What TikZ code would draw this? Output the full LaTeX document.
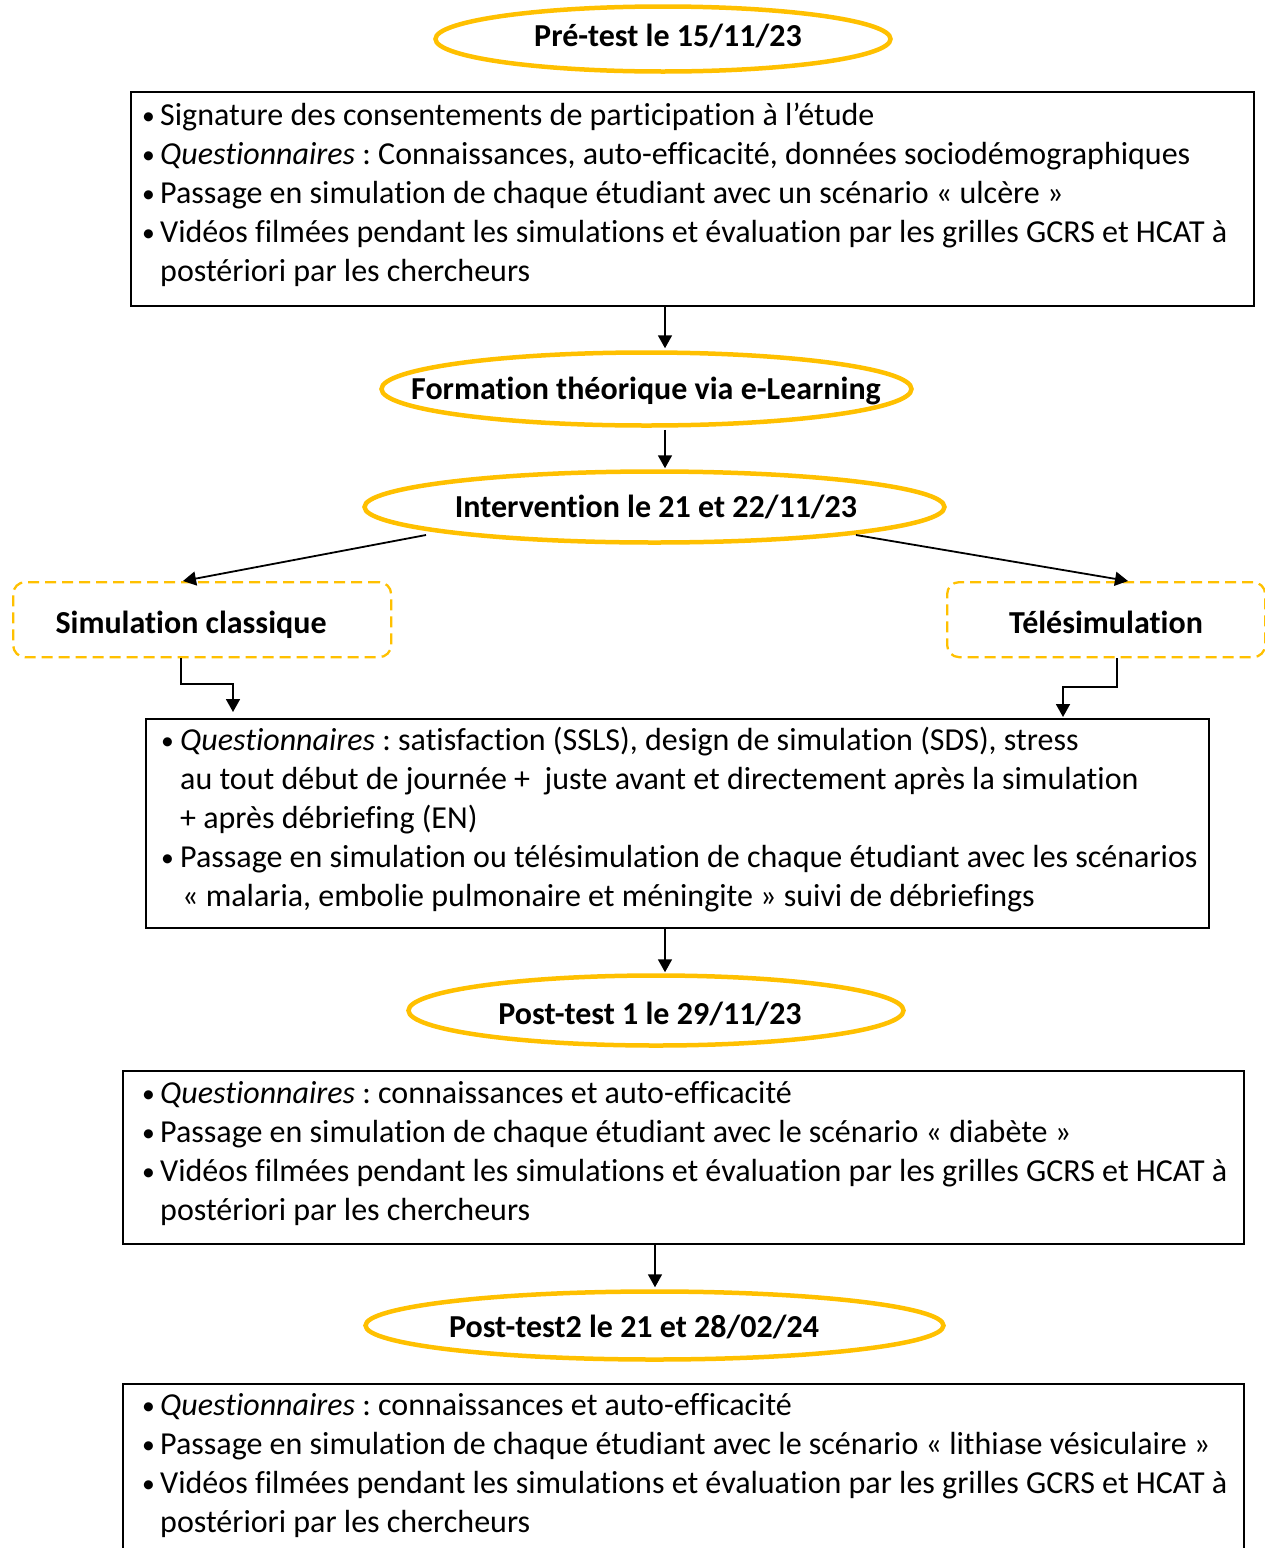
\documentclass[tikz,border=0pt]{standalone}
\usepackage{fontspec}
\setmainfont{Carlito}[Ligatures=NoCommon]
\usetikzlibrary{shapes.geometric,arrows.meta}
\definecolor{gold}{HTML}{FFC000}
\newcommand\bul[1]{\makebox[#1][l]{\raisebox{1pt}{\scalebox{0.8}{•}}}}
\tikzset{
  ell/.style={ellipse, draw=gold, line width=4.5pt, inner sep=0pt},
  boxx/.style={draw, line width=1.5pt, rectangle, inner sep=0pt, anchor=north west},
  dbox/.style={draw=gold, dash pattern=on 11pt off 6pt, line width=2.3pt, rounded corners=12pt, rectangle, inner sep=0pt, anchor=north west},
  txt/.style={anchor=base west, inner sep=0pt, font=\fontsize{32}{39}\selectfont\frenchspacing},
  btxt/.style={anchor=base, inner sep=0pt, font=\fontsize{32}{39}\selectfont\bfseries},
  arr/.style={-{Triangle[width=14pt,length=13pt]}, line width=1.8pt},
  lin/.style={line width=1.8pt}
}
\begin{document}
\begin{tikzpicture}[x=1pt,y=-1pt]
\useasboundingbox (0,0) rectangle (1265,1548);
% ellipses
\node[ell, minimum width=455pt, minimum height=65pt] (e1) at (663,39) {};
\node[btxt] (e1t) at (668,46) {Pré-test le 15/11/23};
\node[ell, minimum width=530pt, minimum height=73pt] (e2) at (646.5,389) {};
\node[btxt] (e2t) at (646,399) {Formation théorique via e-Learning};
\node[ell, minimum width=580pt, minimum height=71pt] (e3) at (654.5,507) {};
\node[btxt] (e3t) at (656,517) {Intervention le 21 et 22/11/23};
\node[ell, minimum width=495pt, minimum height=70pt] (e4) at (656,1010.5) {};
\node[btxt] (e4t) at (650,1024) {Post-test 1 le 29/11/23};
\node[ell, minimum width=578pt, minimum height=68pt] (e5) at (654.5,1325.5) {};
\node[btxt] (e5t) at (634,1337) {Post-test2 le 21 et 28/02/24};
% boxes
\node[boxx, minimum width=1123pt, minimum height=214pt] (b1) at (130,91) {};
\node[txt] (b1l1) at (142,125) {\bul{18pt}Signature des consentements de participation à l’étude};
\node[txt] (b1l2) at (142,164) {\bul{18pt}\textit{Questionnaires} : Connaissances, auto-efficacité, données sociodémographiques};
\node[txt] (b1l3) at (142,203) {\bul{18pt}Passage en simulation de chaque étudiant avec un scénario « ulcère »};
\node[txt] (b1l4) at (142,242) {\bul{18pt}Vidéos filmées pendant les simulations et évaluation par les grilles GCRS et HCAT à};
\node[txt] (b1l5) at (160,281) {postériori par les chercheurs};

\node[dbox, minimum width=378pt, minimum height=75pt] (d1) at (12,581) {};
\node[btxt] (d1t) at (191,633) {Simulation classique};
\node[dbox, minimum width=318pt, minimum height=75pt] (d2) at (946,581) {};
\node[btxt] (d2t) at (1106,633) {Télésimulation};

\node[boxx, minimum width=1063pt, minimum height=209pt] (b2) at (145,718) {};
\node[txt] (b2l1) at (161,750) {\bul{19pt}\textit{Questionnaires} : satisfaction (SSLS), design de simulation (SDS), stress};
\node[txt] (b2l2) at (180,789) {au tout début de journée +\ \ juste avant et directement après la simulation};
\node[txt] (b2l3) at (180,828) {+ après débriefing (EN)};
\node[txt] (b2l4) at (161,867) {\bul{19pt}Passage en simulation ou télésimulation de chaque étudiant avec les scénarios};
\node[txt] (b2l5) at (182,906) {« malaria, embolie pulmonaire et méningite » suivi de débriefings};

\node[boxx, minimum width=1121pt, minimum height=173pt] (b3) at (122,1070) {};
\node[txt] (b3l1) at (142,1103) {\bul{18pt}\textit{Questionnaires} : connaissances et auto-efficacité};
\node[txt] (b3l2) at (142,1142) {\bul{18pt}Passage en simulation de chaque étudiant avec le scénario « diabète »};
\node[txt] (b3l3) at (142,1181) {\bul{18pt}Vidéos filmées pendant les simulations et évaluation par les grilles GCRS et HCAT à};
\node[txt] (b3l4) at (160,1220) {postériori par les chercheurs};

\node[boxx, minimum width=1121pt, minimum height=260pt] (b4) at (122,1383) {};
\node[txt] (b4l1) at (142,1415) {\bul{18pt}\textit{Questionnaires} : connaissances et auto-efficacité};
\node[txt] (b4l2) at (142,1454) {\bul{18pt}Passage en simulation de chaque étudiant avec le scénario « lithiase vésiculaire »};
\node[txt] (b4l3) at (142,1493) {\bul{18pt}Vidéos filmées pendant les simulations et évaluation par les grilles GCRS et HCAT à};
\node[txt] (b4l4) at (160,1532) {postériori par les chercheurs};

% connectors
\coordinate (ax) at (665,0);
\coordinate (bx) at (655,0);
\draw[arr] (b1.south -| ax) -- ([yshift=2pt]e2.north -| ax);
\draw[arr] ([yshift=-2pt]e2.south -| ax) -- ([yshift=1pt]e3.north -| ax);
\draw[arr] (b2.south -| ax) -- ([yshift=1pt]e4.north -| ax);
\draw[arr] (b3.south -| bx) -- ([yshift=2pt]e5.north -| bx);

\coordinate (s1) at (426,535);
\coordinate (s2) at (856,535);
\coordinate (t1) at (183,580);
\coordinate (t2) at (1128,580);
\draw[arr] (s1) -- (t1 |- d1.north);
\draw[arr] (s2) -- (t2 |- d2.north);

\coordinate (l1) at (181,0);
\coordinate (l2) at (233,684);
\coordinate (r1) at (1117,0);
\coordinate (r2) at (1063,687);
\draw[arr] (d1.south -| l1) |- (l2) -- ([yshift=6pt]b2.north -| l2);
\draw[arr] (d2.south -| r1) |- (r2) -- ([yshift=1pt]b2.north -| r2);
\end{tikzpicture}
\end{document}
